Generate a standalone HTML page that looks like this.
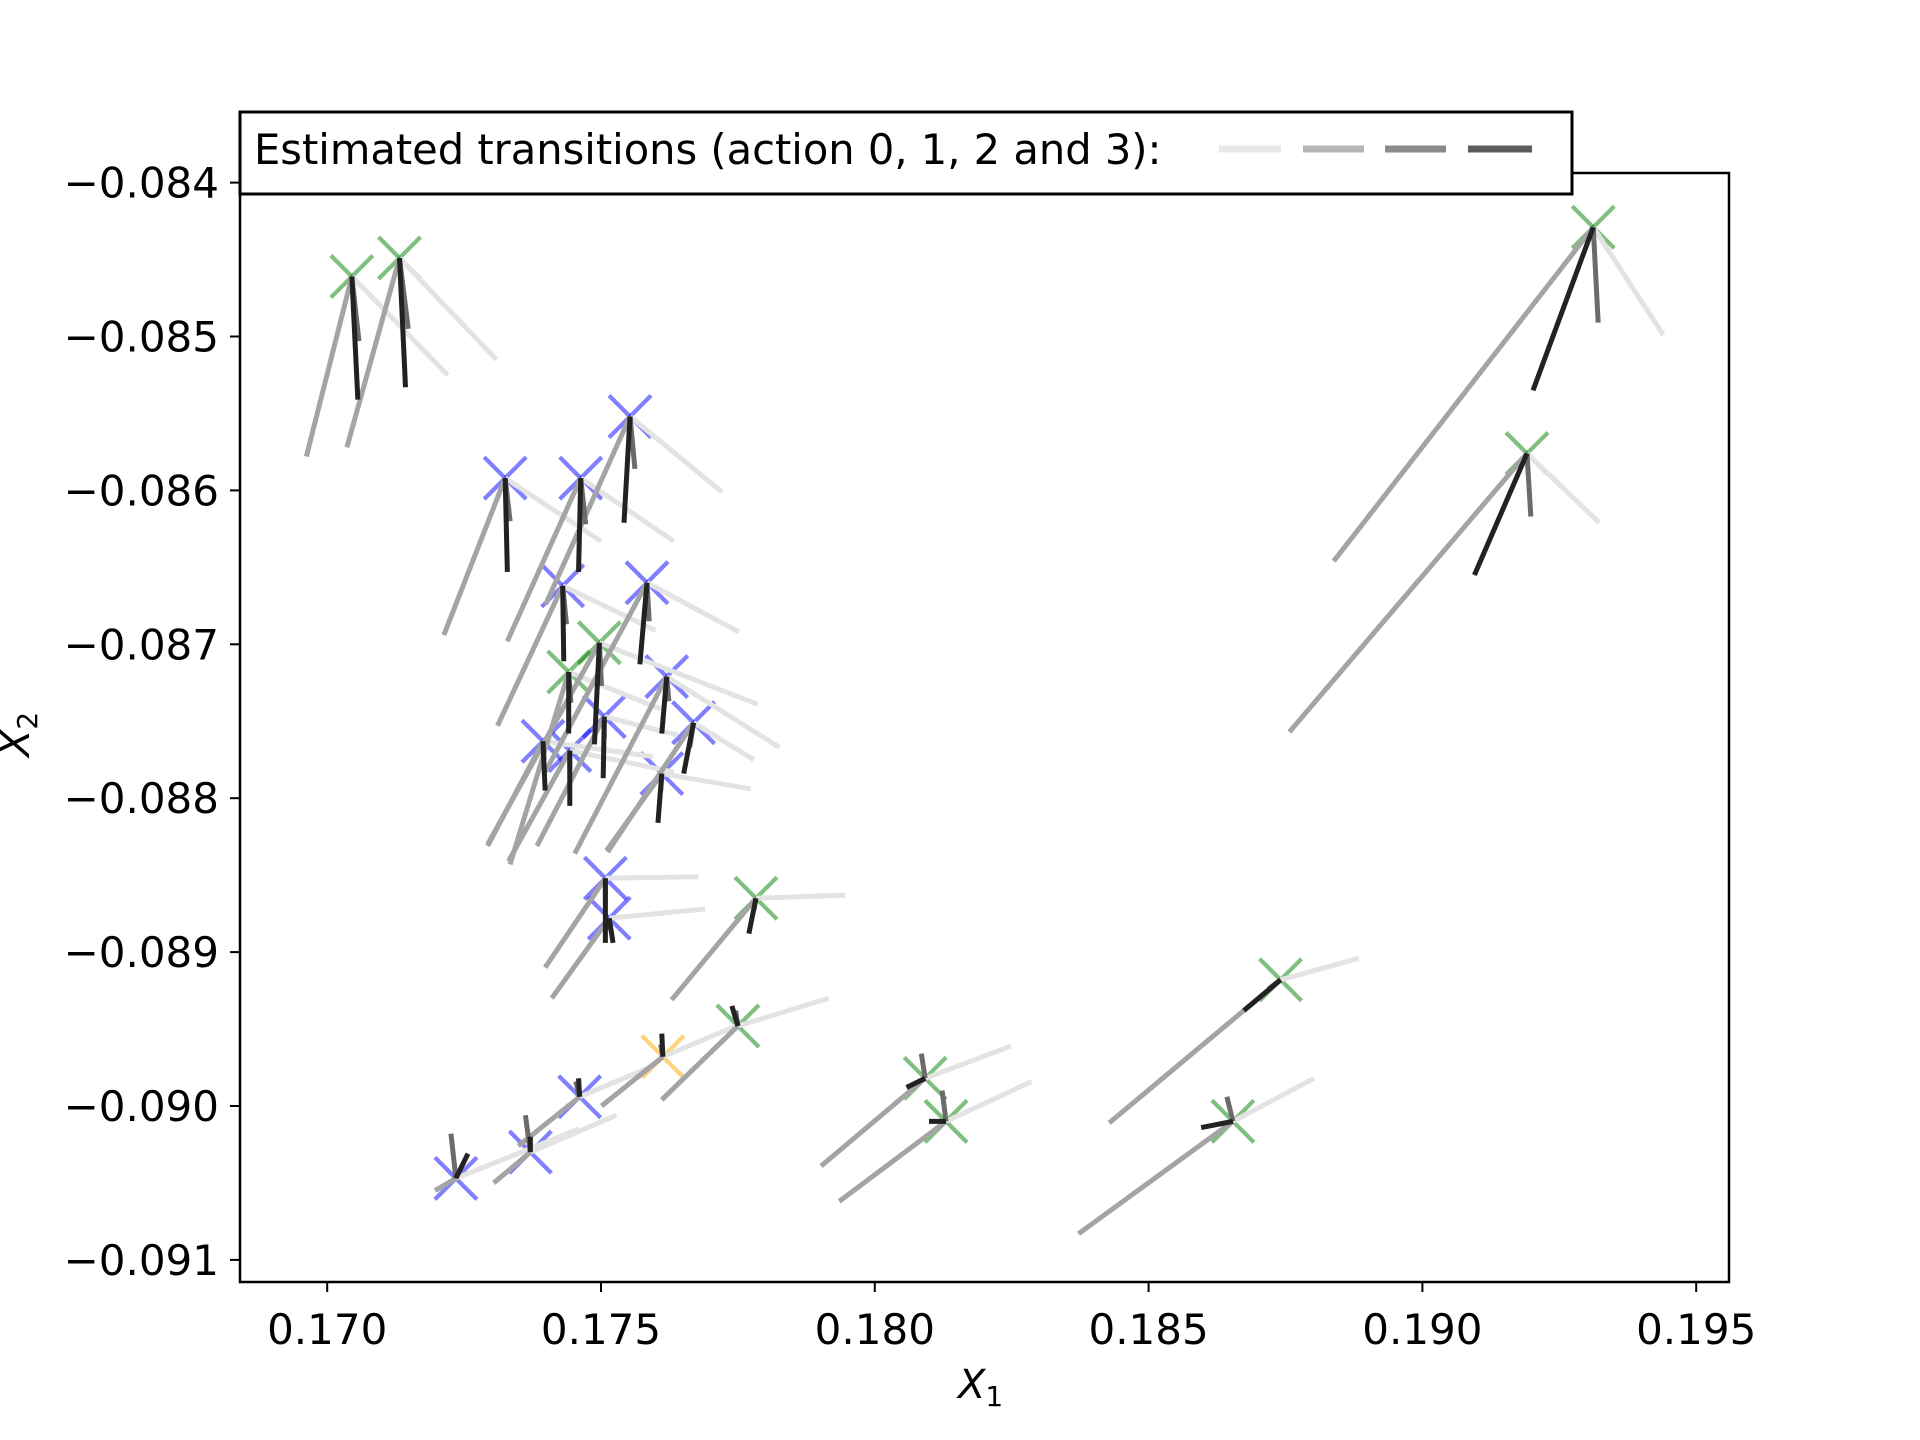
<!DOCTYPE html>
<html><head><meta charset="utf-8">
<style>
html,body{margin:0;padding:0;background:#fff;}
svg{display:block;}
text{font-family:"DejaVu Sans","Liberation Sans",sans-serif;fill:#000;}
</style></head>
<body>
<svg id="chart" width="1920" height="1440" viewBox="0 0 1920 1440" xmlns="http://www.w3.org/2000/svg">
  <rect x="0" y="0" width="1920" height="1440" fill="#fff"/>
  <g id="plot"></g>
  <rect x="240" y="173" width="1489" height="1109" fill="none" stroke="#000" stroke-width="2.5"/>
  <g id="ticks"></g>
  <g>
    <rect x="240" y="112" width="1332" height="82" fill="#fff" stroke="#000" stroke-width="3"/>
    <text x="254" y="164" font-size="41.6">Estimated transitions (action 0, 1, 2 and 3):</text>
    <line x1="1219" y1="149" x2="1281" y2="149" stroke="#e8e8e8" stroke-width="7"/>
    <line x1="1303" y1="149" x2="1364" y2="149" stroke="#b5b5b5" stroke-width="7"/>
    <line x1="1385" y1="149" x2="1446" y2="149" stroke="#8a8a8a" stroke-width="7"/>
    <line x1="1468" y1="149" x2="1532" y2="149" stroke="#5c5c5c" stroke-width="7"/>
  </g>
  <text x="958" y="1398" font-size="40" font-style="italic">X<tspan font-size="28" dy="8" font-style="normal">1</tspan></text>
  <text transform="translate(29,757) rotate(-90)" font-size="40" font-style="italic">X<tspan font-size="28" dy="8" font-style="normal">2</tspan></text>
</svg>
<script>
const xs = [0.17045,0.17132,0.19312,0.19191,0.17553,0.17325,0.17463,0.17584,0.17430,0.17497,0.17441,0.17620,0.17669,0.17394,0.17506,0.17443,0.17611,0.17508,0.17515,0.17783,0.18741,0.17750,0.17613,0.17461,0.17371,0.17235,0.18092,0.18130,0.18654];
const ys = [-0.08461,-0.08449,-0.08429,-0.08576,-0.08552,-0.08592,-0.08592,-0.08660,-0.08662,-0.08699,-0.08718,-0.08721,-0.08751,-0.08763,-0.08747,-0.08769,-0.08784,-0.08852,-0.08878,-0.08865,-0.08918,-0.08948,-0.08968,-0.08994,-0.09030,-0.09047,-0.08982,-0.09010,-0.09010];
const kinds = ['g','g','g','g','b','b','b','b','b','g','g','b','b','b','b','b','b','b','b','g','g','g','o','b','b','b','g','g','g'];
// transition deltas (units of 1e-3) for actions 0..3
const dx0 = [1.75,1.77,1.28,1.32,1.68,1.75,1.70,1.68,1.70,2.89,1.68,2.06,1.10,2.01,1.34,1.90,1.63,1.70,1.75,1.63,1.43,1.66,1.34,1.34,1.57,2.24,1.57,1.57,1.48];
const dy0 = [-0.64,-0.66,-0.70,-0.45,-0.49,-0.41,-0.41,-0.32,-0.29,-0.40,-0.24,-0.46,-0.24,-0.10,-0.12,-0.14,-0.10,0.01,0.06,0.02,0.14,0.18,0.20,0.20,0.24,0.32,0.21,0.26,0.28];
const dx1 = [-0.83,-0.96,-4.74,-4.34,-1.54,-1.12,-1.34,-1.86,-1.19,-2.04,-1.07,-1.68,-1.57,-1.01,-1.23,-1.12,-1.01,-1.10,-1.05,-1.54,-3.13,-1.39,-1.12,-1.12,-0.67,-0.38,-1.90,-1.95,-2.82];
const dy1 = [-1.17,-1.23,-2.17,-1.81,-1.22,-1.02,-1.06,-1.23,-0.91,-1.31,-1.25,-1.15,-0.84,-0.68,-0.84,-0.72,-0.50,-0.58,-0.52,-0.66,-0.93,-0.48,-0.32,-0.32,-0.20,-0.08,-0.57,-0.52,-0.73];
const dx2 = [0.13,0.16,0.09,0.07,0.09,0.09,0.09,0.04,0.07,0.04,0.04,0.04,-0.07,0.02,0,0,-0.02,0,0,-0.04,-0.22,-0.04,-0.04,-0.07,-0.09,-0.09,-0.07,-0.07,-0.11];
const dy2 = [-0.42,-0.46,-0.62,-0.41,-0.34,-0.28,-0.30,-0.25,-0.25,-0.28,-0.20,-0.16,-0.16,-0.12,-0.14,-0.12,-0.12,-0.16,-0.08,-0.08,-0.06,0.10,0.08,0.10,0.24,0.29,0.16,0.20,0.16];
const dx3 = [0.11,0.11,-1.10,-0.96,-0.11,0.04,-0.04,-0.13,0.02,-0.09,0,-0.09,-0.18,0.04,-0.02,0,-0.07,0,0.07,-0.13,-0.67,-0.11,-0.02,-0.02,0,0.22,-0.34,-0.31,-0.58];
const dy3 = [-0.80,-0.84,-1.06,-0.79,-0.69,-0.61,-0.61,-0.53,-0.49,-0.66,-0.40,-0.37,-0.33,-0.32,-0.40,-0.36,-0.32,-0.42,-0.16,-0.23,-0.20,0.13,0.15,0.12,0.10,0.16,-0.06,0,-0.04];
const xTicks = [0.170,0.175,0.180,0.185,0.190,0.195];
const yTicks = [-0.084,-0.085,-0.086,-0.087,-0.088,-0.089,-0.090,-0.091];
const xTickLabels = ['0.170','0.175','0.180','0.185','0.190','0.195'];
const yTickLabels = ['\u22120.084','\u22120.085','\u22120.086','\u22120.087','\u22120.088','\u22120.089','\u22120.090','\u22120.091'];

const NS='http://www.w3.org/2000/svg';
function sx(v){return 327.2+(v-0.170)/0.005*273.8;}
function sy(v){return 182.6+(-0.084-v)/0.001*153.9;}
const plot=document.getElementById('plot');
const tk=document.getElementById('ticks');
function mk(tag,attrs,parent){const e=document.createElementNS(NS,tag);for(const k in attrs)e.setAttribute(k,attrs[k]);parent.appendChild(e);return e;}

const markerCol={g:'rgba(0,128,0,0.5)',b:'rgba(0,0,255,0.5)',o:'rgba(255,165,0,0.5)'};
for(let i=0;i<xs.length;i++){
  const cx=sx(xs[i]),cy=sy(ys[i]),r=21;
  const g=mk('g',{},plot);
  
  
  mk('line',{x1:cx-r,y1:cy-r,x2:cx+r,y2:cy+r,stroke:markerCol[kinds[i]],'stroke-width':4.2},g);
  mk('line',{x1:cx-r,y1:cy+r,x2:cx+r,y2:cy-r,stroke:markerCol[kinds[i]],'stroke-width':4.2},g);
}
const acts=[[dx0,dy0,'#e3e3e3'],[dx1,dy1,'#a4a4a4'],[dx2,dy2,'#6b6b6b'],[dx3,dy3,'#222222']];
for(let a=0;a<4;a++){
  for(let i=0;i<xs.length;i++){
    const x2=xs[i]+acts[a][0][i]*1e-3,y2=ys[i]+acts[a][1][i]*1e-3;
    const l=mk('line',{x1:sx(xs[i]),y1:sy(ys[i]),x2:sx(x2),y2:sy(y2),stroke:acts[a][2],'stroke-width':5},plot);
    
    
  }
}
for(let i=0;i<xTicks.length;i++){
  const x=sx(xTicks[i]);
  const t=mk('line',{x1:x,y1:1282,x2:x,y2:1292,stroke:'#000','stroke-width':2},tk);
  
  
  const l=mk('text',{x:x,y:1344,'font-size':42,'text-anchor':'middle'},tk);
  l.textContent=xTickLabels[i];
  
  
}
for(let i=0;i<yTicks.length;i++){
  const y=sy(yTicks[i]);
  const t=mk('line',{x1:230,y1:y,x2:240,y2:y,stroke:'#000','stroke-width':2},tk);
  
  
  const l=mk('text',{x:219,y:y+15,'font-size':42,'text-anchor':'end'},tk);
  l.textContent=yTickLabels[i];
  
  
}
</script>
</body></html>
